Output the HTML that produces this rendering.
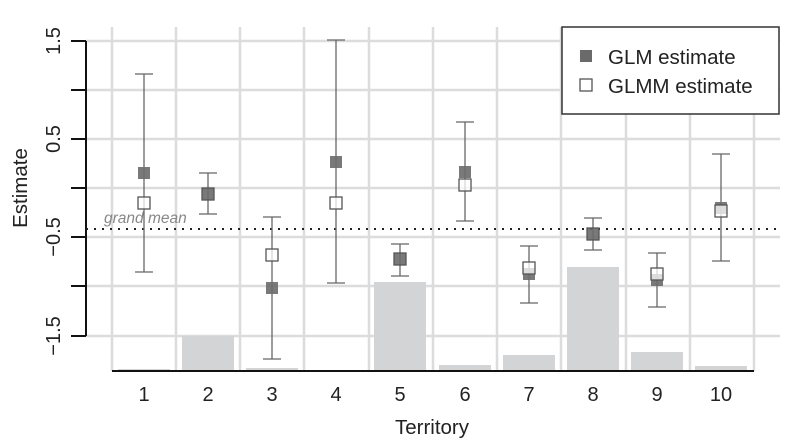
<!DOCTYPE html>
<html><head><meta charset="utf-8"><style>body{margin:0;background:#fff}svg{display:block}</style></head><body>
<svg width="800" height="445" xmlns="http://www.w3.org/2000/svg" font-family="Liberation Sans, sans-serif">
<g stroke="#dcdcdc" stroke-width="2.5">
<line x1="86" y1="41" x2="780" y2="41"/><line x1="86" y1="90" x2="780" y2="90"/><line x1="86" y1="139" x2="780" y2="139"/><line x1="86" y1="188" x2="780" y2="188"/><line x1="86" y1="237" x2="780" y2="237"/><line x1="86" y1="286" x2="780" y2="286"/><line x1="86" y1="336" x2="780" y2="336"/>
<line x1="112" y1="27" x2="112" y2="371"/><line x1="176" y1="27" x2="176" y2="371"/><line x1="240" y1="27" x2="240" y2="371"/><line x1="304" y1="27" x2="304" y2="371"/><line x1="369" y1="27" x2="369" y2="371"/><line x1="433" y1="27" x2="433" y2="371"/><line x1="497" y1="27" x2="497" y2="371"/><line x1="561" y1="27" x2="561" y2="371"/><line x1="626" y1="27" x2="626" y2="371"/><line x1="690" y1="27" x2="690" y2="371"/><line x1="754" y1="27" x2="754" y2="371"/>
</g>
<g fill="#d3d4d6">
<rect x="118" y="369" width="52" height="2"/><rect x="182" y="336" width="52" height="35"/><rect x="246" y="368" width="52" height="3"/><rect x="310" y="370" width="52" height="1"/><rect x="374" y="282" width="52" height="89"/><rect x="439" y="365" width="52" height="6"/><rect x="503" y="355" width="52" height="16"/><rect x="567" y="267" width="52" height="104"/><rect x="631" y="352" width="52" height="19"/><rect x="695" y="366" width="52" height="5"/>
</g>
<line x1="112" y1="371" x2="754" y2="371" stroke="#111" stroke-width="2"/>
<line x1="86" y1="41" x2="86" y2="336" stroke="#111" stroke-width="2"/>
<g stroke="#111" stroke-width="2"><line x1="71" y1="41" x2="86" y2="41"/><line x1="71" y1="90" x2="86" y2="90"/><line x1="71" y1="139" x2="86" y2="139"/><line x1="71" y1="188" x2="86" y2="188"/><line x1="71" y1="237" x2="86" y2="237"/><line x1="71" y1="286" x2="86" y2="286"/><line x1="71" y1="336" x2="86" y2="336"/></g>
<line x1="86" y1="229" x2="780" y2="229" stroke="#222" stroke-width="2" stroke-dasharray="2,6"/>
<text x="104" y="223" font-size="15.5" font-style="italic" fill="#888">grand mean</text>
<g stroke="#666" stroke-width="1.3" fill="none">
<path d="M144 74V272M135 74H153M135 272H153"/>
<path d="M208 173V214M199 173H217M199 214H217"/>
<path d="M272 217V359M263 217H281M263 359H281"/>
<path d="M336 40V283M327 40H345M327 283H345"/>
<path d="M400 244V276M391 244H409M391 276H409"/>
<path d="M465 122V221M456 122H474M456 221H474"/>
<path d="M529 246V303M520 246H538M520 303H538"/>
<path d="M593 218V250M584 218H602M584 250H602"/>
<path d="M657 253V307M648 253H666M648 307H666"/>
<path d="M721 154V261M712 154H730M712 261H730"/>
</g>
<g fill="#6a6a6a" fill-opacity="0.9">
<rect x="138" y="167" width="12" height="12"/><rect x="202" y="188" width="12" height="12"/><rect x="266" y="282" width="12" height="12"/><rect x="330" y="156" width="12" height="12"/><rect x="394" y="253" width="12" height="12"/><rect x="459" y="166" width="12" height="12"/><rect x="523" y="268" width="12" height="12"/><rect x="587" y="228" width="12" height="12"/><rect x="651" y="274" width="12" height="12"/><rect x="715" y="202" width="12" height="12"/>
</g>
<g fill="#fff" fill-opacity="0.75" stroke="#555" stroke-width="1.3">
<rect x="138" y="197" width="12" height="12"/><rect x="266" y="249" width="12" height="12"/><rect x="330" y="197" width="12" height="12"/><rect x="459" y="179" width="12" height="12"/><rect x="523" y="262" width="12" height="12"/><rect x="651" y="268" width="12" height="12"/><rect x="715" y="205" width="12" height="12"/>
</g>
<g fill="none" stroke="#555" stroke-width="1.3"><rect x="394" y="253" width="12" height="12"/><rect x="587" y="228" width="12" height="12"/><rect x="202" y="188" width="12" height="12"/></g>
<rect x="562" y="27" width="217" height="87" fill="#fff" stroke="#333" stroke-width="1.5"/>
<rect x="580" y="50" width="12" height="12" fill="#6a6a6a"/>
<rect x="580" y="79" width="12" height="12" fill="#fff" stroke="#555" stroke-width="1.3"/>
<g font-size="20.5" fill="#222"><text x="608" y="64">GLM estimate</text><text x="608" y="93">GLMM estimate</text></g>
<g font-size="20" fill="#222" text-anchor="middle">
<text transform="translate(60,41) rotate(-90)">1.5</text><text transform="translate(60,139) rotate(-90)">0.5</text><text transform="translate(60,237) rotate(-90)">−0.5</text><text transform="translate(60,336) rotate(-90)">−1.5</text>
<text transform="translate(27,188) rotate(-90)" font-size="20.5">Estimate</text>
<text x="144" y="401">1</text><text x="208" y="401">2</text><text x="272" y="401">3</text><text x="336" y="401">4</text><text x="400" y="401">5</text><text x="465" y="401">6</text><text x="529" y="401">7</text><text x="593" y="401">8</text><text x="657" y="401">9</text><text x="721" y="401">10</text>
<text x="432" y="434" font-size="20.5">Territory</text>
</g>
</svg>
</body></html>
